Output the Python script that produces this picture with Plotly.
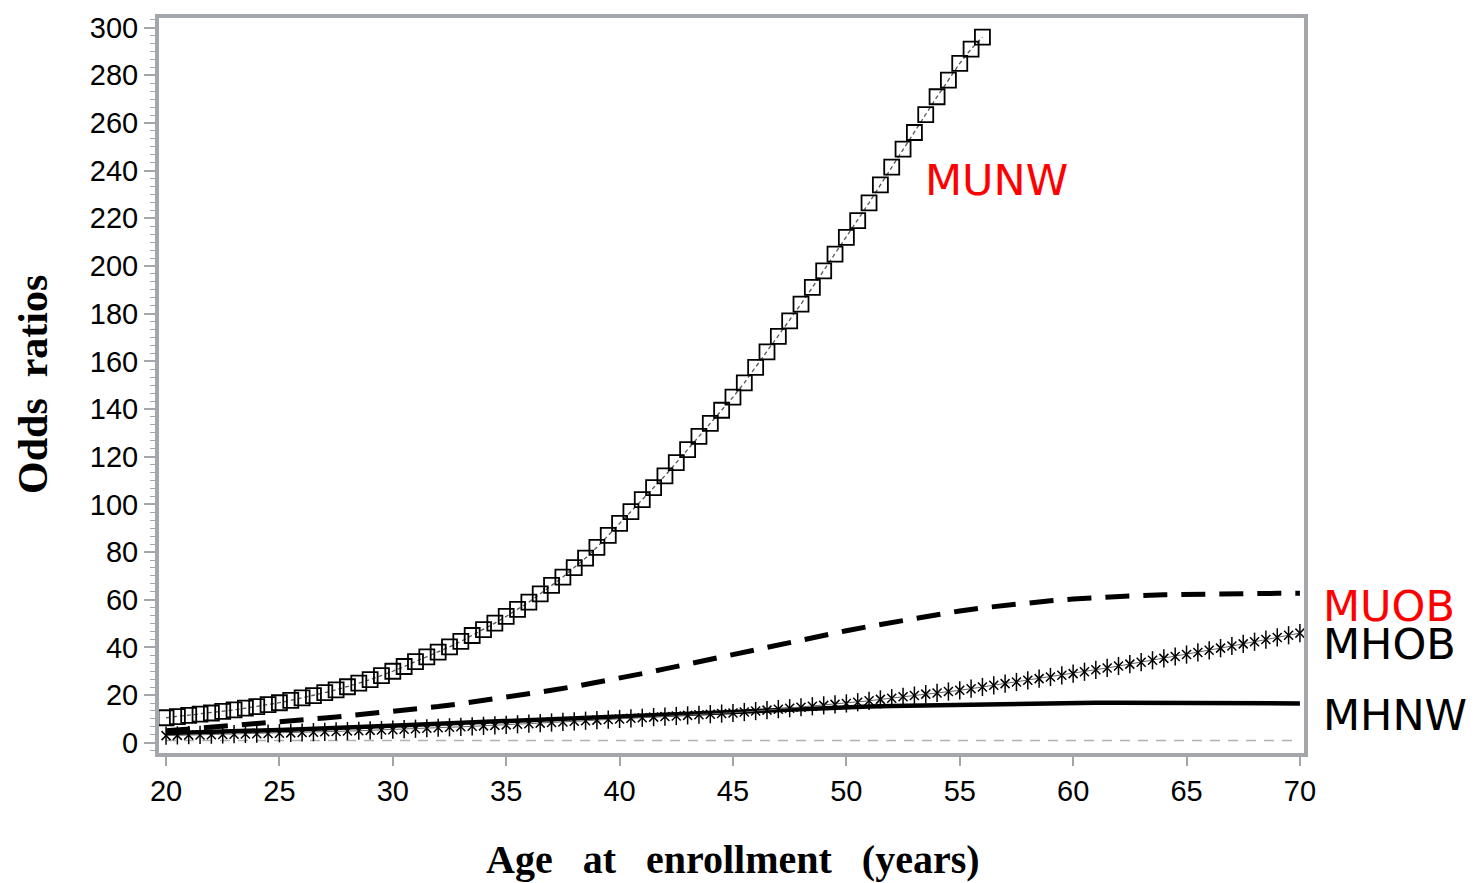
import plotly.graph_objects as go

# ---------------- data ----------------
age_munw = [20 + 0.5 * i for i in range(73)]  # 20 .. 56
or_munw = [10.5, 11, 11.5, 12, 12.5, 13.2, 13.8, 14.5, 15.2, 16, 16.8, 17.8, 18.8, 19.8,
           21, 22.2, 23.5, 25, 26.5, 28.2, 30, 32, 34, 36, 38, 40.2, 42.5, 45, 47.5, 50.2,
           53, 56, 59, 62.5, 66, 69.5, 73.5, 77.5, 82, 87, 92, 97, 102, 107, 112, 117.5,
           123, 128.5, 134, 139.5, 145, 151, 157.5, 164, 170.5, 177, 184, 191, 198, 205,
           212, 219, 226.5, 234, 241.5, 249, 256, 263.5, 271, 278, 285, 291, 296]

age_mhob = [20 + 0.5 * i for i in range(101)]  # 20 .. 70
or_mhob = [3.0, 3.1, 3.2, 3.3, 3.4, 3.5, 3.6, 3.7, 3.8, 3.9, 4.0, 4.15, 4.3, 4.45, 4.6,
           4.75, 4.9, 5.05, 5.2, 5.35, 5.5, 5.7, 5.9, 6.1, 6.3, 6.5, 6.7, 6.9, 7.1, 7.3,
           7.5, 7.75, 8.0, 8.25, 8.5, 8.75, 9.0, 9.25, 9.5, 9.75, 10.0, 10.25, 10.5, 10.75,
           11.0, 11.25, 11.5, 11.75, 12.0, 12.25, 12.5, 12.9, 13.3, 13.7, 14.1, 14.5, 14.9,
           15.3, 15.7, 16.1, 16.5, 17.0, 17.6, 18.2, 18.7, 19.3, 19.8, 20.4, 20.9, 21.5,
           22.0, 22.7, 23.4, 24.1, 24.8, 25.5, 26.2, 26.9, 27.6, 28.3, 29.0, 29.8, 30.6,
           31.4, 32.2, 33.0, 33.8, 34.6, 35.4, 36.2, 37.0, 37.9, 38.8, 39.7, 40.6, 41.5,
           42.4, 43.3, 44.2, 45.1, 46.0]

age_line = list(range(20, 71))  # 20 .. 70
or_muob = [5, 5.7, 6.4, 7.1, 7.8, 8.6, 9.5, 10.4, 11.3, 12.2, 13.1, 14.1, 15.2, 16.4, 17.7,
           19.1, 20.5, 22, 23.6, 25.3, 27, 29, 31, 33, 35, 37, 39.3, 41.5, 43.5, 45.3, 47,
           48.8, 50.5, 52.2, 53.8, 55.3, 56.6, 57.7, 58.7, 59.6, 60.3, 60.9, 61.4, 61.8,
           62.1, 62.3, 62.5, 62.6, 62.7, 62.7, 62.7]
or_mhnw = [4, 4.2, 4.5, 4.8, 5.1, 5.4, 5.7, 6.0, 6.4, 6.8, 7.2, 7.6, 8.0, 8.4, 8.8, 9.2,
           9.6, 10, 10.4, 10.8, 11.2, 11.6, 12, 12.4, 12.8, 13.2, 13.6, 14, 14.3, 14.6,
           14.9, 15.2, 15.4, 15.6, 15.8, 16, 16.2, 16.4, 16.5, 16.6, 16.7, 16.8, 16.8,
           16.8, 16.8, 16.8, 16.8, 16.7, 16.6, 16.5, 16.5]

ref_value = 1
x_ticks = [20, 25, 30, 35, 40, 45, 50, 55, 60, 65, 70]
y_ticks = list(range(0, 301, 20))

labels = ["MUNW", "MUOB", "MHOB", "MHNW"]
label_colors = ["#ff0000", "#ff0000", "#000000", "#000000"]

GREY = "#a3a7ab"

fig = go.Figure()

# reference line at OR = 1
fig.add_trace(go.Scatter(x=[age_line[0], age_line[-1]], y=[ref_value, ref_value], mode="lines",
                         line=dict(color="#b0b0b0", width=1.5, dash="10px,8px"),
                         hoverinfo="skip", showlegend=False))

# MHNW solid
fig.add_trace(go.Scatter(x=age_line, y=or_mhnw, mode="lines",
                         line=dict(color="black", width=4.5), name="MHNW", showlegend=False))

# MUOB dashed
fig.add_trace(go.Scatter(x=age_line, y=or_muob, mode="lines",
                         line=dict(color="black", width=5, dash="24px,14px"),
                         name="MUOB", showlegend=False))

# MHOB crosses
fig.add_trace(go.Scatter(x=age_mhob, y=or_mhob, mode="lines+markers",
                         line=dict(color="#666666", width=1),
                         marker=dict(symbol="x-thin-open", size=9, color="black",
                                     line=dict(width=1.5, color="black")),
                         name="MHOB", showlegend=False))
fig.add_trace(go.Scatter(x=age_mhob, y=or_mhob, mode="markers",
                         marker=dict(symbol="line-ns-open", size=13, color="black",
                                     line=dict(width=1.5, color="black")),
                         hoverinfo="skip", showlegend=False))

# MUNW squares
fig.add_trace(go.Scatter(x=age_munw, y=or_munw, mode="lines+markers",
                         line=dict(color="#555555", width=1.3, dash="4px,3px"),
                         marker=dict(symbol="square-open", size=15, color="black",
                                     line=dict(width=1.8, color="black")),
                         name="MUNW", showlegend=False))

# labels
label_pos = [(53.4, 236, "x"), (1.0145, 57.5, "paper"), (1.0145, 41.3, "paper"), (1.0145, 11.7, "paper")]
for txt, col, (lx, ly, xr) in zip(labels, label_colors, label_pos):
    fig.add_annotation(x=lx, y=ly, xref=xr, yref="y", text=txt, showarrow=False,
                       xanchor="left", yanchor="middle",
                       font=dict(family="DejaVu Sans", size=43, color=col))

# axis titles
fig.add_annotation(x=(733 - 159) / 1145, y=(753 - 860) / 741,
                   xref="paper", yref="paper",
                   text="Age\u00a0\u00a0 at\u00a0\u00a0 enrollment\u00a0\u00a0 (years)", showarrow=False,
                   xanchor="center", yanchor="middle",
                   font=dict(family="Liberation Serif", size=40, color="black", weight="bold"))
fig.add_annotation(x=(33 - 159) / 1145, y=(753 - 382) / 741, xref="paper", yref="paper",
                   text="Odds\u00a0 ratios", showarrow=False, textangle=-90,
                   xanchor="center", yanchor="middle",
                   font=dict(family="Liberation Serif", size=42, color="black", weight="bold"))

fig.update_layout(
    width=1479, height=883,
    margin=dict(l=159, r=175, t=12, b=130),
    paper_bgcolor="white", plot_bgcolor="white",
    showlegend=False,
    font=dict(family="Liberation Sans", color="black"),
    xaxis=dict(range=[19.69, 70.18], tickvals=x_ticks, ticks="outside", ticklen=9,
               tickwidth=1.5, tickcolor=GREY, showgrid=False, zeroline=False,
               showline=True, linecolor=GREY, linewidth=4, mirror=True,
               tickfont=dict(family="Liberation Sans", size=29, color="black")),
    yaxis=dict(range=[-4.29, 304.04], tickvals=y_ticks, ticks="outside", ticklen=11,
               tickwidth=1.5, tickcolor=GREY, showgrid=False, zeroline=False,
               showline=True, linecolor=GREY, linewidth=4, mirror=True,
               tickfont=dict(family="Liberation Sans", size=29, color="black"),
               minor=dict(dtick=20 / 6, tick0=0, ticks="outside", ticklen=5,
                          tickwidth=1.2, tickcolor=GREY, showgrid=False)),
)

fig.write_html("out.html")
